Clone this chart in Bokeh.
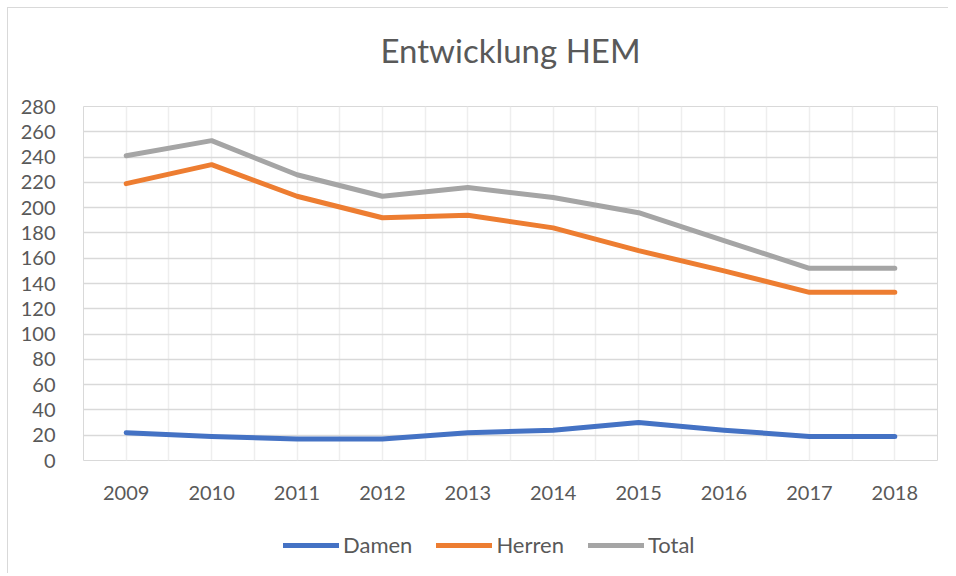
from bokeh.plotting import figure
from bokeh.layouts import column
from bokeh.models import Range1d, FixedTicker, Legend, LegendItem
from bokeh.embed import file_html
from bokeh.resources import INLINE

years = ["2009", "2010", "2011", "2012", "2013", "2014", "2015", "2016", "2017", "2018"]
damen = [22, 19, 17, 17, 22, 24, 30, 24, 19, 19]
herren = [219, 234, 209, 192, 194, 184, 166, 150, 133, 133]
total = [241, 253, 226, 209, 216, 208, 196, 174, 152, 152]
y_ticks = list(range(0, 281, 20))

xs = list(range(len(years)))
FONT = "Lato"
TXT = "#595959"
colors = {"Damen": "#4472C4", "Herren": "#ED7D31", "Total": "#A5A5A5"}
series = (("Damen", damen), ("Herren", herren), ("Total", total))

# title strip
tf = figure(width=940, height=86, output_backend="svg", toolbar_location=None,
            x_axis_type=None, y_axis_type=None,
            x_range=Range1d(0, 1), y_range=Range1d(0, 1),
            min_border_left=18, min_border_right=0, min_border_top=80, min_border_bottom=0)
tf.outline_line_color = None
tf.title.text = "Entwicklung HEM"
tf.title.align = "center"
tf.title.text_font = FONT
tf.title.text_font_size = "33px"
tf.title.text_font_style = "normal"
tf.title.text_color = TXT
tf.title.standoff = 38

# main chart
p = figure(width=940, height=434, output_backend="svg", toolbar_location=None,
           x_range=Range1d(-0.5, len(years) - 0.5), y_range=Range1d(0, 280),
           min_border_left=75, min_border_right=11, min_border_top=12, min_border_bottom=68)
p.outline_line_color = "#D9D9D9"
p.outline_line_width = 1

p.xaxis.ticker = FixedTicker(ticks=xs, minor_ticks=[i + 0.5 for i in range(-1, len(years))])
p.xaxis.major_label_overrides = {i: y for i, y in enumerate(years)}
p.yaxis.ticker = FixedTicker(ticks=y_ticks)
for ax in (p.xaxis, p.yaxis):
    ax.axis_line_color = None
    ax.major_tick_line_color = None
    ax.minor_tick_line_color = None
    ax.major_label_text_font = FONT
    ax.major_label_text_font_size = "20px"
    ax.major_label_text_color = TXT
p.yaxis.major_label_standoff = 22
p.xaxis.major_label_standoff = 19

p.ygrid.grid_line_color = "#D9D9D9"
p.ygrid.grid_line_width = 1.5
p.xgrid.grid_line_color = "#EEEEEE"
p.xgrid.grid_line_width = 1.5
p.xgrid.minor_grid_line_color = "#EEEEEE"
p.xgrid.minor_grid_line_width = 1.5

for name, vals in series:
    p.line(xs, vals, line_color=colors[name], line_width=5, line_cap="round", line_join="round")

# legend strip below the chart
lg = figure(width=940, height=45, output_backend="svg", toolbar_location=None,
            x_range=Range1d(100, 101), y_range=Range1d(100, 101),
            x_axis_type=None, y_axis_type=None,
            min_border_left=0, min_border_right=0, min_border_top=0, min_border_bottom=0)
lg.outline_line_color = None
items = []
for name, vals in series:
    r = lg.line(xs, vals, line_color=colors[name], line_width=5, line_cap="round")
    items.append(LegendItem(label=name, renderers=[r]))
legend = Legend(items=items, orientation="horizontal", location=(200, 15),
                glyph_width=56, glyph_height=20, label_standoff=4, spacing=24,
                label_text_font=FONT, label_text_font_size="22px", label_text_color=TXT,
                border_line_color=None, background_fill_alpha=0, padding=0, margin=0)
lg.add_layout(legend, "center")

layout = column(tf, p, lg, spacing=0)
layout.styles = {"margin-left": "7px", "margin-top": "7px",
                 "border-left": "1px solid #D9D9D9", "border-top": "1px solid #D9D9D9"}

open("out.html", "w").write(file_html(layout, INLINE))
